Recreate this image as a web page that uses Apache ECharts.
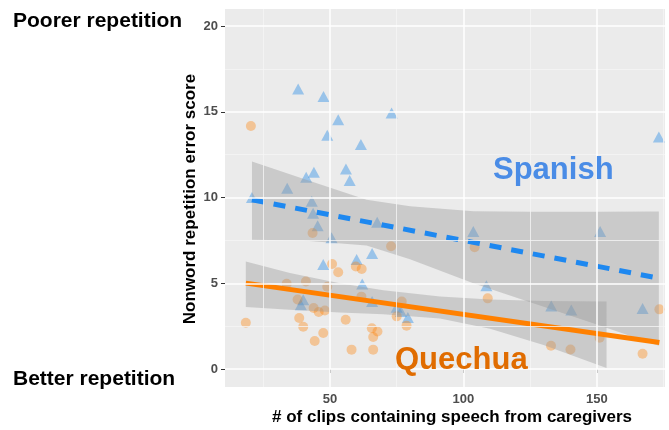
<!DOCTYPE html>
<html><head><meta charset="utf-8">
<script src="https://cdn.jsdelivr.net/npm/echarts@6/dist/echarts.min.js"></script>
<style>html,body{margin:0;padding:0;background:#fff}#c{width:669px;height:430px}</style>
</head><body><div id="c"></div>
<script>
// Spanish (triangles)
const spanishX = [38.1,47.6,53.1,49.0,61.6,73.1,44.0,41.1,56.0,57.4,34.0,20.8,43.2,43.7,45.4,50.6,47.5,67.7,65.8,60.0,62.1,40.0,39.1,65.8,75.0,76.6,79.2,173.2,103.7,151.2,108.6,132.9,140.4,167.1];
const spanishY = [16.33,15.9,14.54,13.64,13.1,14.93,11.48,11.18,11.67,10.99,10.54,10.0,9.78,9.08,8.36,7.65,6.1,8.56,6.74,6.39,4.96,4.04,3.75,3.94,3.6,3.36,3.0,13.53,8.02,8.02,4.86,3.67,3.44,3.53];
// Quechua (circles)
const quechuaX = [20.4,43.5,50.8,53.1,33.8,41.0,49.0,72.9,59.7,61.9,18.5,38.5,40.0,44.3,47.5,37.9,43.9,45.8,48.1,55.9,58.1,61.8,65.7,67.8,66.2,66.2,76.9,75.0,78.7,104.2,109.1,132.8,140.1,151.0,167.1,173.4];
const quechuaY = [14.17,7.93,6.13,5.64,4.97,5.1,4.8,7.16,5.98,5.83,2.7,2.97,2.46,1.63,2.1,4.05,3.56,3.32,3.41,2.87,1.13,4.22,2.38,2.19,1.87,1.13,3.94,3.07,2.53,7.1,4.12,1.36,1.14,1.83,0.89,3.48];
// fitted lines (end points)
const spanishFit = [[20.8,9.87],[173.2,5.3]];
const quechuaFit = [[18.5,5.01],[173.4,1.55]];
// confidence bands
const spanishBandX = [20.8,40,63.7,80,103.7,125,150,173.2];
const spanishBandUp = [12.1,11.1,9.87,9.5,9.2,9.18,9.18,9.19];
const spanishBandLo = [7.54,7.5,7.2,6.4,5.0,3.9,2.6,1.35];
const quechuaBandX = [18.5,35,53.7,70,91.2,110,130,153.6];
const quechuaBandUp = [6.27,5.6,5.0,4.6,4.23,4.05,3.97,3.94];
const quechuaBandLo = [3.62,3.45,3.3,3.2,2.95,2.35,1.4,0.06];
// ticks
const xTicks = [50,100,150];
const xMinor = [25,75,125,175];
const yTicks = [0,5,10,15,20];
const yMinor = [2.5,7.5,12.5,17.5];

const FONT = "'Liberation Sans', Arial, Helvetica, sans-serif";
const chart = echarts.init(document.getElementById('c'), null, {renderer:'canvas'});

function zip(xs, ys){ return xs.map((x,i)=>[x, ys[i]]); }
function band(xs, up, lo, z){
  const data = xs.map((x,i)=>[x, up[i], lo[i]]);
  return {
    type:'custom', z, silent:true, data, clip:true,
    encode:{x:0, y:[1,2]},
    renderItem(params, api){
      if (params.dataIndex !== 0) return null;
      const pts = [];
      for (let i=0;i<data.length;i++) pts.push(api.coord([data[i][0], data[i][1]]));
      for (let i=data.length-1;i>=0;i--) pts.push(api.coord([data[i][0], data[i][2]]));
      return {type:'polygon', shape:{points:pts}, style:{fill:'rgba(153,153,153,0.4)'}};
    }
  };
}
const gridLines = [];
yMinor.forEach(v=>gridLines.push({yAxis:v, lineStyle:{color:'#F5F5F5', width:0.8, type:'solid'}}));
xMinor.forEach(v=>gridLines.push({xAxis:v, lineStyle:{color:'#F5F5F5', width:0.8, type:'solid'}}));
yTicks.forEach(v=>gridLines.push({yAxis:v, lineStyle:{color:'#FFFFFF', width:1.5, type:'solid'}}));
xTicks.forEach(v=>gridLines.push({xAxis:v, lineStyle:{color:'#FFFFFF', width:1.5, type:'solid'}}));

chart.setOption({
  animation:false,
  backgroundColor:'#FFFFFF',
  grid:{left:225, right:4, top:9, bottom:43, show:true, backgroundColor:'#EBEBEB', borderWidth:0},
  xAxis:{type:'value', min:10.7, max:175.5,
    axisLine:{show:false}, splitLine:{show:false},
    axisTick:{show:true, customValues:xTicks, length:4, lineStyle:{color:'#333333', width:1}},
    axisLabel:{customValues:xTicks, margin:6, color:'#4D4D4D', fontWeight:'bold', fontSize:13, fontFamily:FONT}},
  yAxis:{type:'value', min:-1.05, max:21.0,
    axisLine:{show:false}, splitLine:{show:false},
    axisTick:{show:true, customValues:yTicks, length:4, lineStyle:{color:'#333333', width:1}},
    axisLabel:{customValues:yTicks, margin:7, color:'#4D4D4D', fontWeight:'bold', fontSize:13, fontFamily:FONT}},
  graphic:[
    {type:'text', left:13, top:11, style:{text:'Poorer repetition', font:"bold 21px "+FONT, fill:'#000'}},
    {type:'text', left:13, top:369, style:{text:'Better repetition', font:"bold 21px "+FONT, fill:'#000'}},
    {type:'text', x:190, y:199, rotation:Math.PI/2, style:{text:'Nonword repetition error score', font:"bold 17px "+FONT, fill:'#000', align:'center', verticalAlign:'middle'}},
    {type:'text', x:452, y:417, style:{text:'# of clips containing speech from caregivers', font:"bold 17px "+FONT, fill:'#000', align:'center', verticalAlign:'middle'}},
    {type:'text', x:493, y:170, z:100, style:{text:'Spanish', font:"bold 31px "+FONT, fill:'#4A8CE6', verticalAlign:'middle'}},
    {type:'text', x:395, y:360, z:100, style:{text:'Quechua', font:"bold 31px "+FONT, fill:'#E06C00', verticalAlign:'middle'}}
  ],
  series:[
    {type:'line', data:[], z:1, silent:true,
      markLine:{silent:true, symbol:['none','none'], label:{show:false}, animation:false, data:gridLines}},
    {type:'scatter', name:'Spanish', data:zip(spanishX, spanishY), symbol:'triangle', symbolSize:[12,11], z:2,
      itemStyle:{color:'rgba(30,136,229,0.5)'}},
    {type:'scatter', name:'Quechua', data:zip(quechuaX, quechuaY), symbol:'circle', symbolSize:10, z:2,
      itemStyle:{color:'rgba(255,127,0,0.45)'}},
    band(spanishBandX, spanishBandUp, spanishBandLo, 3),
    band(quechuaBandX, quechuaBandUp, quechuaBandLo, 3),
    {type:'line', data:spanishFit, z:4, symbol:'none', silent:true,
      lineStyle:{color:'#1E88F0', width:5, type:[12,10]}},
    {type:'line', data:quechuaFit, z:4, symbol:'none', silent:true,
      lineStyle:{color:'#FF8000', width:5}}
  ]
});
</script></body></html>
